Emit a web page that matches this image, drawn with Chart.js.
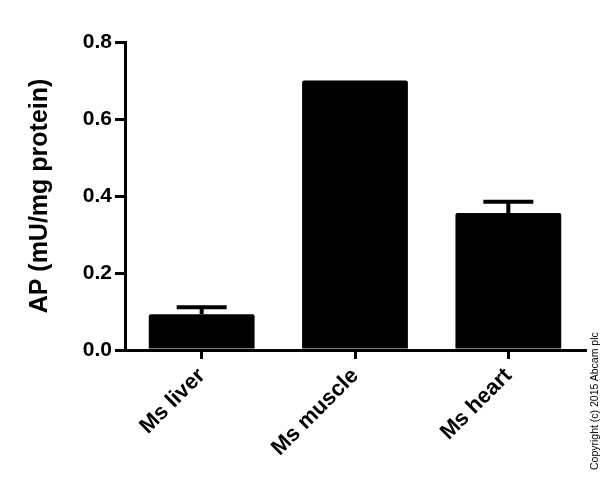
<!DOCTYPE html>
<html lang="en">
<head>
  <meta charset="UTF-8">
  <title>AP activity</title>
  <script src="https://cdn.jsdelivr.net/npm/chart.js"></script>
  <style>
    body { margin: 0; background: #fff; }
    #wrap { position: relative; width: 600px; height: 487px; }
    #copy { position: absolute; left: 588px; top: 470px; transform-origin: 0 0; transform: rotate(-90deg);
            font: 10.5px "Liberation Sans", Arial, sans-serif; line-height: 12px; color: #000; white-space: nowrap; }
  </style>
</head>
<body>
  <div id="wrap">
    <canvas id="apChart" width="600" height="487"></canvas>
    <div id="copy">Copyright (c) 2015 Abcam plc</div>
  </div>

  <script>
    const categories = ['Ms liver', 'Ms muscle', 'Ms heart'];
    const apValues = [0.093, 0.70, 0.356];
    const apErrors = [0.018, 0, 0.029];
    const yTicks = [0, 0.2, 0.4, 0.6, 0.8];

    // upper error bars drawn on top of the bars
    const errorBars = {
      id: 'errorBars',
      afterDatasetsDraw(chart) {
        const ctx = chart.ctx;
        const y = chart.scales.y;
        chart.getDatasetMeta(0).data.forEach((bar, i) => {
          if (!apErrors[i]) return;
          const top = y.getPixelForValue(apValues[i] + apErrors[i]);
          ctx.save();
          ctx.strokeStyle = '#000';
          ctx.lineWidth = 4;
          ctx.beginPath();
          ctx.moveTo(bar.x, bar.y);
          ctx.lineTo(bar.x, top);
          ctx.moveTo(bar.x - 25, top);
          ctx.lineTo(bar.x + 25, top);
          ctx.stroke();
          ctx.restore();
        });
      }
    };

    new Chart(document.getElementById('apChart'), {
      type: 'bar',
      data: {
        labels: categories,
        datasets: [{
          data: apValues,
          backgroundColor: '#000',
          borderRadius: 2,
          borderSkipped: 'bottom',
          barPercentage: 0.69,
          categoryPercentage: 1
        }]
      },
      options: {
        responsive: false,
        animation: false,
        layout: { padding: { left: 25, right: 15, top: 42, bottom: 0 } },
        plugins: { legend: { display: false }, tooltip: { enabled: false } },
        scales: {
          x: {
            grid: { drawOnChartArea: false, offset: false, color: '#000', lineWidth: 3, tickLength: 9 },
            border: { color: '#000', width: 3 },
            ticks: {
              color: '#000', autoSkip: false, maxRotation: 45, minRotation: 45, padding: 4,
              font: { family: '"Liberation Sans", Arial, sans-serif', size: 22, weight: 'bold' }
            },
            afterFit: s => { s.height = 137; }
          },
          y: {
            min: 0,
            max: 0.8,
            afterBuildTicks: s => { s.ticks = yTicks.map(v => ({ value: v })); },
            grid: { drawOnChartArea: false, color: '#000', lineWidth: 3, tickLength: 10 },
            border: { color: '#000', width: 3 },
            ticks: {
              color: '#000', padding: 3,
              callback: v => v.toFixed(1),
              font: { family: '"Liberation Sans", Arial, sans-serif', size: 21, weight: 'bold' }
            },
            title: {
              display: true,
              text: 'AP (mU/mg protein)',
              color: '#000',
              padding: 0,
              font: { family: '"Liberation Sans", Arial, sans-serif', size: 25, weight: 'bold' }
            },
            afterFit: s => { s.width = 100; }
          }
        }
      },
      plugins: [errorBars]
    });
  </script>
</body>
</html>
